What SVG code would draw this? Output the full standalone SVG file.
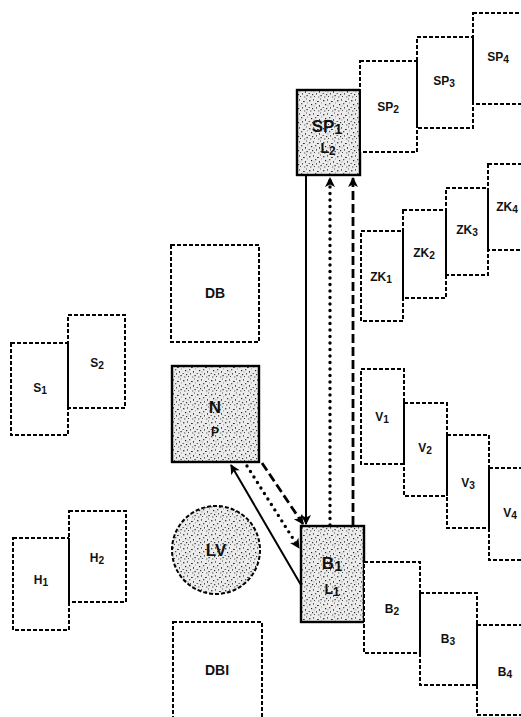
<svg xmlns="http://www.w3.org/2000/svg" width="521" height="717" viewBox="0 0 521 717">
<defs>
<pattern id="speck" width="14" height="14" patternUnits="userSpaceOnUse">
<rect width="14" height="14" fill="#ececec"/>
<rect x="1" y="2" width="1.4" height="1.4" fill="#444"/>
<rect x="5" y="1" width="1" height="1.8" fill="#666"/>
<rect x="9" y="3" width="1.8" height="1" fill="#333"/>
<rect x="12" y="0.5" width="1" height="1" fill="#555"/>
<rect x="3" y="6" width="1.2" height="1.2" fill="#222"/>
<rect x="7" y="5" width="1.3" height="1.3" fill="#555"/>
<rect x="11" y="7" width="1" height="1.8" fill="#444"/>
<rect x="0.5" y="9" width="1.6" height="1" fill="#666"/>
<rect x="4" y="10" width="1.2" height="1.2" fill="#333"/>
<rect x="8" y="9" width="1" height="1.6" fill="#555"/>
<rect x="12.5" y="11" width="1.2" height="1.2" fill="#222"/>
<rect x="2" y="12.5" width="1.4" height="1" fill="#555"/>
<rect x="6" y="12" width="1" height="1" fill="#444"/>
<rect x="10" y="12.5" width="1.3" height="1" fill="#666"/>
<rect x="5.5" y="7.5" width="0.9" height="0.9" fill="#777"/>
<rect x="13" y="4.5" width="0.9" height="0.9" fill="#777"/>
</pattern>
<marker id="ah" viewBox="0 0 10 10" refX="9" refY="5" markerWidth="12" markerHeight="10" markerUnits="userSpaceOnUse" orient="auto">
<path d="M0,0 L10,5 L0,10 L2.5,5 z" fill="#000"/>
</marker>
</defs>
<style>
.dbox{fill:#fff;stroke:#000;stroke-width:2;stroke-dasharray:4 2}
.sbox{fill:url(#speck);stroke:#000;stroke-width:2.4}
.shared{stroke:#000;stroke-width:2}
text{font-family:"Liberation Sans",Arial,sans-serif;font-weight:bold;text-anchor:middle;fill:#111}
.s{font-size:12px}
.m{font-size:14px}
.l{font-size:17px}
.sub{font-size:0.85em}
.c{fill:none;stroke:#000}
</style>
<rect width="521" height="717" fill="#fff"/>

<g id="S1"><rect class="dbox" x="11" y="343" width="57" height="92"/><text class="s" x="40" y="392">S<tspan class="sub" dy="2">1</tspan></text></g>
<g id="S2"><rect class="dbox" x="68" y="315" width="57" height="93"/><line class="shared" x1="68" y1="343" x2="68" y2="408"/><text class="s" x="97" y="367">S<tspan class="sub" dy="2">2</tspan></text></g>
<g id="H1"><rect class="dbox" x="13" y="538" width="56" height="92"/><text class="s" x="41" y="584">H<tspan class="sub" dy="2">1</tspan></text></g>
<g id="H2"><rect class="dbox" x="69" y="511" width="57" height="91"/><line class="shared" x1="69" y1="538" x2="69" y2="602"/><text class="s" x="97" y="562">H<tspan class="sub" dy="2">2</tspan></text></g>

<g id="DB"><rect class="dbox" x="171" y="245" width="88" height="97"/><text class="m" x="215" y="298">DB</text></g>
<g id="N"><rect class="sbox" x="172" y="366" width="87" height="96"/><text class="l" x="215" y="413">N</text><text class="s" x="215" y="436">P</text></g>
<g id="LV"><circle cx="216" cy="550" r="44" fill="url(#speck)" stroke="#000" stroke-width="2" stroke-dasharray="4 2"/><text class="l" x="216" y="556">LV</text></g>
<g id="DBI"><rect class="dbox" x="173" y="622" width="89" height="110"/><text class="m" x="217" y="675">DBI</text></g>

<g id="SP1"><rect class="sbox" x="297" y="90" width="63" height="85"/><text class="l" x="327" y="132">SP<tspan class="sub" dy="2">1</tspan></text><text class="m" x="328" y="153">L<tspan class="sub" dy="2">2</tspan></text></g>
<g id="SP2"><rect class="dbox" x="360" y="61" width="57" height="91"/><line class="shared" x1="360" y1="90" x2="360" y2="152"/><text class="s" x="388" y="111">SP<tspan class="sub" dy="2">2</tspan></text></g>
<g id="SP3"><rect class="dbox" x="417" y="37" width="56" height="91"/><line class="shared" x1="417" y1="61" x2="417" y2="128"/><text class="s" x="444" y="85">SP<tspan class="sub" dy="2">3</tspan></text></g>
<g id="SP4"><rect class="dbox" x="473" y="13" width="60" height="91"/><line class="shared" x1="473" y1="37" x2="473" y2="104"/><text class="s" x="498" y="61">SP<tspan class="sub" dy="2">4</tspan></text></g>

<g id="ZK1"><rect class="dbox" x="361" y="231" width="42" height="90"/><text class="s" x="381" y="281">ZK<tspan class="sub" dy="2">1</tspan></text></g>
<g id="ZK2"><rect class="dbox" x="403" y="210" width="43" height="88"/><line class="shared" x1="403" y1="231" x2="403" y2="298"/><text class="s" x="424" y="257">ZK<tspan class="sub" dy="2">2</tspan></text></g>
<g id="ZK3"><rect class="dbox" x="446" y="188" width="42" height="87"/><line class="shared" x1="446" y1="210" x2="446" y2="275"/><text class="s" x="467" y="234">ZK<tspan class="sub" dy="2">3</tspan></text></g>
<g id="ZK4"><rect class="dbox" x="488" y="164" width="45" height="86"/><line class="shared" x1="488" y1="188" x2="488" y2="250"/><text class="s" x="507" y="211">ZK<tspan class="sub" dy="2">4</tspan></text></g>

<g id="V1"><rect class="dbox" x="361" y="369" width="43" height="95"/><text class="s" x="382" y="421">V<tspan class="sub" dy="2">1</tspan></text></g>
<g id="V2"><rect class="dbox" x="404" y="403" width="43" height="93"/><line class="shared" x1="404" y1="403" x2="404" y2="464"/><text class="s" x="425" y="452">V<tspan class="sub" dy="2">2</tspan></text></g>
<g id="V3"><rect class="dbox" x="447" y="435" width="42" height="93"/><line class="shared" x1="447" y1="435" x2="447" y2="496"/><text class="s" x="468" y="487">V<tspan class="sub" dy="2">3</tspan></text></g>
<g id="V4"><rect class="dbox" x="489" y="468" width="45" height="92"/><line class="shared" x1="489" y1="468" x2="489" y2="528"/><text class="s" x="510" y="517">V<tspan class="sub" dy="2">4</tspan></text></g>

<g id="B1"><rect class="sbox" x="301" y="526" width="63" height="96"/><text class="l" x="332" y="569">B<tspan class="sub" dy="2">1</tspan></text><text class="m" x="332" y="594">L<tspan class="sub" dy="2">1</tspan></text></g>
<g id="B2"><rect class="dbox" x="364" y="562" width="56" height="91"/><text class="s" x="392" y="613">B<tspan class="sub" dy="2">2</tspan></text></g>
<g id="B3"><rect class="dbox" x="420" y="593" width="57" height="92"/><line class="shared" x1="420" y1="593" x2="420" y2="653"/><text class="s" x="448" y="643">B<tspan class="sub" dy="2">3</tspan></text></g>
<g id="B4"><rect class="dbox" x="477" y="625" width="56" height="90"/><line class="shared" x1="477" y1="625" x2="477" y2="685"/><text class="s" x="505" y="676">B<tspan class="sub" dy="2">4</tspan></text></g>

<g id="connectors">
<line class="c" x1="306" y1="176" x2="306" y2="524" stroke-width="2" marker-end="url(#ah)"/>
<line class="c" x1="330" y1="525" x2="330" y2="178" stroke-width="3.4" stroke-dasharray="0 6.5" stroke-linecap="round" marker-end="url(#ah)"/>
<line class="c" x1="353" y1="525" x2="353" y2="178" stroke-width="2.8" stroke-dasharray="9 4" marker-end="url(#ah)"/>
<line class="c" x1="301" y1="585" x2="231" y2="465" stroke-width="2" marker-end="url(#ah)"/>
<line class="c" x1="247" y1="466" x2="299" y2="548" stroke-width="3.4" stroke-dasharray="0 6.5" stroke-linecap="round" marker-end="url(#ah)"/>
<line class="c" x1="262" y1="463" x2="303" y2="524" stroke-width="2.8" stroke-dasharray="9 4" marker-end="url(#ah)"/>
</g>
</svg>
